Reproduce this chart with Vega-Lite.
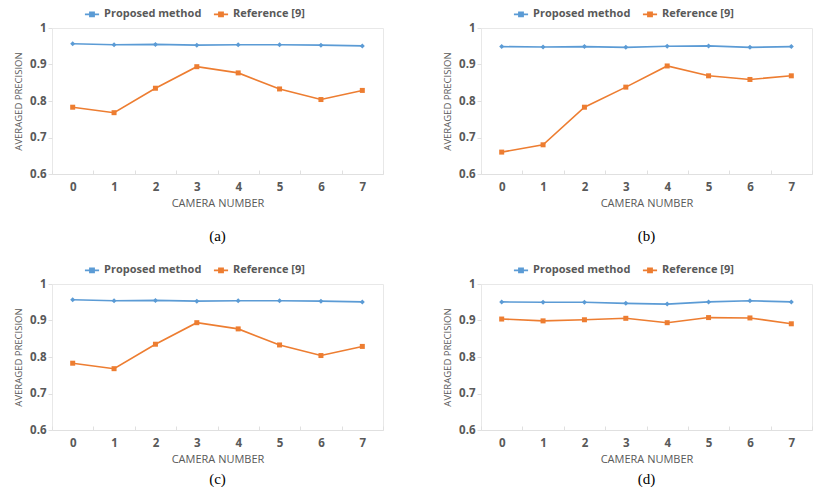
{
  "$schema": "https://vega.github.io/schema/vega-lite/v6.json",
  "background": "white",
  "padding": {"left": 13, "top": 5, "right": 5, "bottom": 0},
  "datasets": {
    "d": [
      {"panel": "a", "camera": 0, "method": "Proposed method", "value": 0.957},
      {"panel": "a", "camera": 1, "method": "Proposed method", "value": 0.954},
      {"panel": "a", "camera": 2, "method": "Proposed method", "value": 0.955},
      {"panel": "a", "camera": 3, "method": "Proposed method", "value": 0.953},
      {"panel": "a", "camera": 4, "method": "Proposed method", "value": 0.954},
      {"panel": "a", "camera": 5, "method": "Proposed method", "value": 0.954},
      {"panel": "a", "camera": 6, "method": "Proposed method", "value": 0.953},
      {"panel": "a", "camera": 7, "method": "Proposed method", "value": 0.951},
      {"panel": "a", "camera": 0, "method": "Reference [9]", "value": 0.783},
      {"panel": "a", "camera": 1, "method": "Reference [9]", "value": 0.768},
      {"panel": "a", "camera": 2, "method": "Reference [9]", "value": 0.835},
      {"panel": "a", "camera": 3, "method": "Reference [9]", "value": 0.894},
      {"panel": "a", "camera": 4, "method": "Reference [9]", "value": 0.877},
      {"panel": "a", "camera": 5, "method": "Reference [9]", "value": 0.833},
      {"panel": "a", "camera": 6, "method": "Reference [9]", "value": 0.804},
      {"panel": "a", "camera": 7, "method": "Reference [9]", "value": 0.829},
      {"panel": "b", "camera": 0, "method": "Proposed method", "value": 0.949},
      {"panel": "b", "camera": 1, "method": "Proposed method", "value": 0.948},
      {"panel": "b", "camera": 2, "method": "Proposed method", "value": 0.949},
      {"panel": "b", "camera": 3, "method": "Proposed method", "value": 0.947},
      {"panel": "b", "camera": 4, "method": "Proposed method", "value": 0.950},
      {"panel": "b", "camera": 5, "method": "Proposed method", "value": 0.951},
      {"panel": "b", "camera": 6, "method": "Proposed method", "value": 0.947},
      {"panel": "b", "camera": 7, "method": "Proposed method", "value": 0.949},
      {"panel": "b", "camera": 0, "method": "Reference [9]", "value": 0.660},
      {"panel": "b", "camera": 1, "method": "Reference [9]", "value": 0.680},
      {"panel": "b", "camera": 2, "method": "Reference [9]", "value": 0.783},
      {"panel": "b", "camera": 3, "method": "Reference [9]", "value": 0.838},
      {"panel": "b", "camera": 4, "method": "Reference [9]", "value": 0.896},
      {"panel": "b", "camera": 5, "method": "Reference [9]", "value": 0.869},
      {"panel": "b", "camera": 6, "method": "Reference [9]", "value": 0.859},
      {"panel": "b", "camera": 7, "method": "Reference [9]", "value": 0.869},
      {"panel": "c", "camera": 0, "method": "Proposed method", "value": 0.957},
      {"panel": "c", "camera": 1, "method": "Proposed method", "value": 0.954},
      {"panel": "c", "camera": 2, "method": "Proposed method", "value": 0.955},
      {"panel": "c", "camera": 3, "method": "Proposed method", "value": 0.953},
      {"panel": "c", "camera": 4, "method": "Proposed method", "value": 0.954},
      {"panel": "c", "camera": 5, "method": "Proposed method", "value": 0.954},
      {"panel": "c", "camera": 6, "method": "Proposed method", "value": 0.953},
      {"panel": "c", "camera": 7, "method": "Proposed method", "value": 0.951},
      {"panel": "c", "camera": 0, "method": "Reference [9]", "value": 0.783},
      {"panel": "c", "camera": 1, "method": "Reference [9]", "value": 0.768},
      {"panel": "c", "camera": 2, "method": "Reference [9]", "value": 0.835},
      {"panel": "c", "camera": 3, "method": "Reference [9]", "value": 0.894},
      {"panel": "c", "camera": 4, "method": "Reference [9]", "value": 0.877},
      {"panel": "c", "camera": 5, "method": "Reference [9]", "value": 0.833},
      {"panel": "c", "camera": 6, "method": "Reference [9]", "value": 0.804},
      {"panel": "c", "camera": 7, "method": "Reference [9]", "value": 0.829},
      {"panel": "d", "camera": 0, "method": "Proposed method", "value": 0.951},
      {"panel": "d", "camera": 1, "method": "Proposed method", "value": 0.950},
      {"panel": "d", "camera": 2, "method": "Proposed method", "value": 0.950},
      {"panel": "d", "camera": 3, "method": "Proposed method", "value": 0.947},
      {"panel": "d", "camera": 4, "method": "Proposed method", "value": 0.945},
      {"panel": "d", "camera": 5, "method": "Proposed method", "value": 0.951},
      {"panel": "d", "camera": 6, "method": "Proposed method", "value": 0.954},
      {"panel": "d", "camera": 7, "method": "Proposed method", "value": 0.951},
      {"panel": "d", "camera": 0, "method": "Reference [9]", "value": 0.904},
      {"panel": "d", "camera": 1, "method": "Reference [9]", "value": 0.899},
      {"panel": "d", "camera": 2, "method": "Reference [9]", "value": 0.902},
      {"panel": "d", "camera": 3, "method": "Reference [9]", "value": 0.906},
      {"panel": "d", "camera": 4, "method": "Reference [9]", "value": 0.894},
      {"panel": "d", "camera": 5, "method": "Reference [9]", "value": 0.908},
      {"panel": "d", "camera": 6, "method": "Reference [9]", "value": 0.907},
      {"panel": "d", "camera": 7, "method": "Reference [9]", "value": 0.891}
    ]
  },
  "config": {
    "view": {"stroke": "#e8e8e8", "strokeWidth": 1},
    "font": "Open Sans",
    "axis": {
      "labelColor": "#595959",
      "labelFont": "Open Sans",
      "labelFontWeight": "bold",
      "labelFontSize": 11.5,
      "titleColor": "#595959",
      "titleFont": "Open Sans",
      "titleFontWeight": "normal",
      "titleFontSize": 9.5,
      "domainColor": "#e0e0e0",
      "tickColor": "#e0e0e0",
      "grid": false
    },
    "axisX": {"titleFontSize": 11},
    "legend": {
      "labelColor": "#595959",
      "labelFont": "Open Sans",
      "labelFontWeight": "bold",
      "labelFontSize": 11
    },
    "title": {
      "font": "Liberation Serif",
      "fontSize": 15,
      "fontWeight": "normal",
      "color": "#000000",
      "orient": "bottom",
      "anchor": "middle"
    }
  },
  "spacing": 17,
  "vconcat": [
    {
      "spacing": 58,
      "hconcat": [
        {
          "title": {"text": "(a)", "offset": 20},
          "width": 331, "height": 146,
          "data": {"name": "d"},
          "transform": [{"filter": "datum.panel == 'a'"}],
          "layer": [
            {"mark": {"type": "line", "strokeWidth": 1.6}, "encoding": {}},
            {"mark": {"type": "point", "filled": true, "opacity": 1, "size": 25}, "encoding": {"shape": {"field": "method", "type": "nominal", "scale": {"domain": ["Proposed method", "Reference [9]"], "range": ["diamond", "square"]}, "legend": null}}}
          ],
          "encoding": {
            "x": {"field": "camera", "type": "ordinal", "scale": {"paddingInner": 0, "paddingOuter": 0}, "axis": {"title": "CAMERA NUMBER", "labelAngle": 0, "tickBand": "extent", "tickSize": -4, "labelPadding": 11, "titlePadding": 5}},
            "y": {"field": "value", "type": "quantitative", "scale": {"domain": [0.6, 1]}, "axis": {"title": "AVERAGED PRECISION", "values": [0.6, 0.7, 0.8, 0.9, 1], "format": "~g", "domain": false, "tickSize": 4, "labelPadding": 2, "titlePadding": 6}},
            "color": {"field": "method", "type": "nominal", "scale": {"domain": ["Proposed method", "Reference [9]"], "range": ["#5b9bd5", "#ed7d31"]}, "legend": {"orient": "none", "legendX": 32, "legendY": -22, "direction": "horizontal", "title": null, "symbolType": "M-1,0H1M-0.3,-0.3H0.3V0.3H-0.3Z", "symbolSize": 200, "symbolStrokeWidth": 1.6, "columnPadding": 8}}
          }
        },
        {
          "title": {"text": "(b)", "offset": 20},
          "width": 331, "height": 146,
          "data": {"name": "d"},
          "transform": [{"filter": "datum.panel == 'b'"}],
          "layer": [
            {"mark": {"type": "line", "strokeWidth": 1.6}, "encoding": {}},
            {"mark": {"type": "point", "filled": true, "opacity": 1, "size": 25}, "encoding": {"shape": {"field": "method", "type": "nominal", "scale": {"domain": ["Proposed method", "Reference [9]"], "range": ["diamond", "square"]}, "legend": null}}}
          ],
          "encoding": {
            "x": {"field": "camera", "type": "ordinal", "scale": {"paddingInner": 0, "paddingOuter": 0}, "axis": {"title": "CAMERA NUMBER", "labelAngle": 0, "tickBand": "extent", "tickSize": -4, "labelPadding": 11, "titlePadding": 5}},
            "y": {"field": "value", "type": "quantitative", "scale": {"domain": [0.6, 1]}, "axis": {"title": "AVERAGED PRECISION", "values": [0.6, 0.7, 0.8, 0.9, 1], "format": "~g", "domain": false, "tickSize": 4, "labelPadding": 2, "titlePadding": 6}},
            "color": {"field": "method", "type": "nominal", "scale": {"domain": ["Proposed method", "Reference [9]"], "range": ["#5b9bd5", "#ed7d31"]}, "legend": {"orient": "none", "legendX": 32, "legendY": -22, "direction": "horizontal", "title": null, "symbolType": "M-1,0H1M-0.3,-0.3H0.3V0.3H-0.3Z", "symbolSize": 200, "symbolStrokeWidth": 1.6, "columnPadding": 8}}
          }
        }
      ],
      "resolve": {"legend": {"color": "independent"}, "scale": {"color": "independent"}}
    },
    {
      "spacing": 58,
      "hconcat": [
        {
          "title": {"text": "(c)", "offset": 7},
          "width": 331, "height": 146,
          "data": {"name": "d"},
          "transform": [{"filter": "datum.panel == 'c'"}],
          "layer": [
            {"mark": {"type": "line", "strokeWidth": 1.6}, "encoding": {}},
            {"mark": {"type": "point", "filled": true, "opacity": 1, "size": 25}, "encoding": {"shape": {"field": "method", "type": "nominal", "scale": {"domain": ["Proposed method", "Reference [9]"], "range": ["diamond", "square"]}, "legend": null}}}
          ],
          "encoding": {
            "x": {"field": "camera", "type": "ordinal", "scale": {"paddingInner": 0, "paddingOuter": 0}, "axis": {"title": "CAMERA NUMBER", "labelAngle": 0, "tickBand": "extent", "tickSize": -4, "labelPadding": 11, "titlePadding": 5}},
            "y": {"field": "value", "type": "quantitative", "scale": {"domain": [0.6, 1]}, "axis": {"title": "AVERAGED PRECISION", "values": [0.6, 0.7, 0.8, 0.9, 1], "format": "~g", "domain": false, "tickSize": 4, "labelPadding": 2, "titlePadding": 6}},
            "color": {"field": "method", "type": "nominal", "scale": {"domain": ["Proposed method", "Reference [9]"], "range": ["#5b9bd5", "#ed7d31"]}, "legend": {"orient": "none", "legendX": 32, "legendY": -22, "direction": "horizontal", "title": null, "symbolType": "M-1,0H1M-0.3,-0.3H0.3V0.3H-0.3Z", "symbolSize": 200, "symbolStrokeWidth": 1.6, "columnPadding": 8}}
          }
        },
        {
          "title": {"text": "(d)", "offset": 7},
          "width": 331, "height": 146,
          "data": {"name": "d"},
          "transform": [{"filter": "datum.panel == 'd'"}],
          "layer": [
            {"mark": {"type": "line", "strokeWidth": 1.6}, "encoding": {}},
            {"mark": {"type": "point", "filled": true, "opacity": 1, "size": 25}, "encoding": {"shape": {"field": "method", "type": "nominal", "scale": {"domain": ["Proposed method", "Reference [9]"], "range": ["diamond", "square"]}, "legend": null}}}
          ],
          "encoding": {
            "x": {"field": "camera", "type": "ordinal", "scale": {"paddingInner": 0, "paddingOuter": 0}, "axis": {"title": "CAMERA NUMBER", "labelAngle": 0, "tickBand": "extent", "tickSize": -4, "labelPadding": 11, "titlePadding": 5}},
            "y": {"field": "value", "type": "quantitative", "scale": {"domain": [0.6, 1]}, "axis": {"title": "AVERAGED PRECISION", "values": [0.6, 0.7, 0.8, 0.9, 1], "format": "~g", "domain": false, "tickSize": 4, "labelPadding": 2, "titlePadding": 6}},
            "color": {"field": "method", "type": "nominal", "scale": {"domain": ["Proposed method", "Reference [9]"], "range": ["#5b9bd5", "#ed7d31"]}, "legend": {"orient": "none", "legendX": 32, "legendY": -22, "direction": "horizontal", "title": null, "symbolType": "M-1,0H1M-0.3,-0.3H0.3V0.3H-0.3Z", "symbolSize": 200, "symbolStrokeWidth": 1.6, "columnPadding": 8}}
          }
        }
      ],
      "resolve": {"legend": {"color": "independent"}, "scale": {"color": "independent"}}
    }
  ]
}
